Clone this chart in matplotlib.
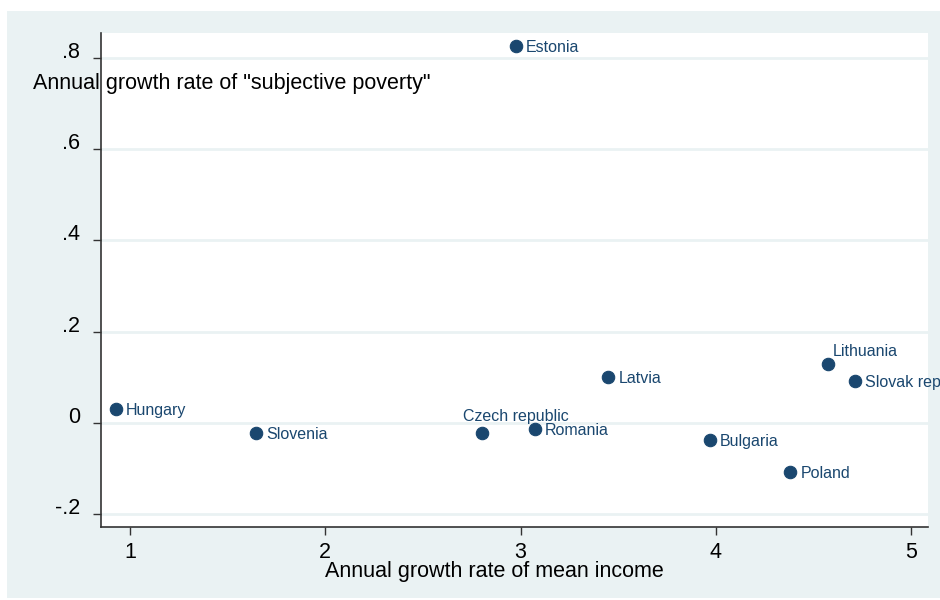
import matplotlib.pyplot as plt
from matplotlib.patches import Rectangle

# data
countries = ['Estonia', 'Hungary', 'Slovenia', 'Czech republic', 'Romania',
             'Latvia', 'Lithuania', 'Slovak rep', 'Bulgaria', 'Poland']
income_growth = [2.976, 0.928, 1.645, 2.802, 3.075, 3.449, 4.576, 4.712, 3.968, 4.382]
poverty_growth = [0.826, 0.031, -0.022, -0.023, -0.0125, 0.101, 0.128, 0.092, -0.038, -0.107]

x_ticks = [1, 2, 3, 4, 5]
y_ticks = [-0.2, 0, 0.2, 0.4, 0.6, 0.8]
y_tick_labels = ['-.2', '0', '.2', '.4', '.6', '.8']

navy = '#1A476F'
bg = '#EAF2F3'

plt.rcParams['font.family'] = ['Liberation Sans', 'DejaVu Sans']

W, H = 940, 600
fig = plt.figure(figsize=(W / 100, H / 100), dpi=100)
fig.patch.set_facecolor('white')

# graph region (light background)
fig.add_artist(Rectangle((7 / W, 2 / H), 933 / W, 587 / H,
                         transform=fig.transFigure, facecolor=bg,
                         edgecolor='none', zorder=-10))

ax = fig.add_axes([101 / W, (H - 527) / H, (928 - 101) / W, (527 - 33) / H])
ax.set_facecolor('white')

ax.scatter(income_growth, poverty_growth, s=80, color=navy, edgecolor=navy,
           linewidth=0.8, zorder=3)

# label positions (pixels): most to the right, two above
offsets = {'Lithuania': (4, 14), 'Czech republic': (-19, 18)}
for name, xv, yv in zip(countries, income_growth, poverty_growth):
    dx, dy = offsets.get(name, (10, 0))
    ax.annotate(name, (xv, yv), xytext=(dx, dy), textcoords='offset pixels',
                ha='left', va='center_baseline', fontsize=11.5, color=navy)

ax.set_xlim(0.852, 5.086)
ax.set_ylim(-0.228, 0.854)
ax.set_xticks(x_ticks)
ax.set_xticklabels([str(t) for t in x_ticks])
ax.set_yticks(y_ticks)
ax.set_yticklabels(y_tick_labels, va='baseline')

ax.grid(True, axis='y', color=bg, linewidth=2)
ax.set_axisbelow(True)

for s in ['top', 'right']:
    ax.spines[s].set_visible(False)
for s in ['left', 'bottom']:
    ax.spines[s].set_color('#333333')
    ax.spines[s].set_linewidth(1.2)

ax.tick_params(axis='both', direction='out', length=6, width=1, color='#333333',
               labelsize=15.5, labelcolor='black')
ax.tick_params(axis='x', pad=5)
ax.tick_params(axis='y', pad=9)

fig.text(33 / W, (H - 83) / H, 'Annual growth rate of "subjective poverty"',
         ha='left', va='center', fontsize=15.5)
fig.text(494 / W, (H - 572) / H, 'Annual growth rate of mean income',
         ha='center', va='center', fontsize=15.5)

plt.savefig('out.png', dpi=100, facecolor=fig.get_facecolor())
